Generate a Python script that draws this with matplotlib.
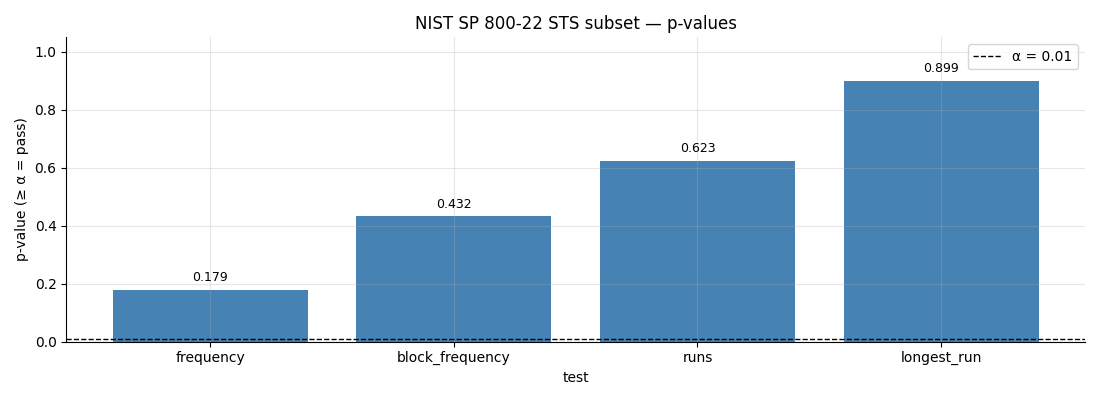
import matplotlib
matplotlib.use('Agg')
import matplotlib.pyplot as plt

tests = ['frequency', 'block_frequency', 'runs', 'longest_run']
p_values = [0.179, 0.432, 0.623, 0.899]
alpha = 0.01

fig, ax = plt.subplots(figsize=(11, 4), dpi=100)
bars = ax.bar(tests, p_values, color='steelblue')
for b, p in zip(bars, p_values):
    ax.text(b.get_x() + b.get_width() / 2, p + 0.02, f'{p:.3f}',
            ha='center', va='bottom', fontsize=9)
ax.axhline(alpha, color='black', linestyle='--', linewidth=1, label=f'α = {alpha}')
ax.set_ylim(0, 1.05)
ax.set_xlabel('test')
ax.set_ylabel('p-value (≥ α = pass)')
ax.set_title('NIST SP 800-22 STS subset — p-values')
ax.grid(alpha=0.3)
ax.spines['top'].set_visible(False)
ax.spines['right'].set_visible(False)
ax.legend(loc='upper right')
fig.tight_layout()
fig.savefig('out.png')
